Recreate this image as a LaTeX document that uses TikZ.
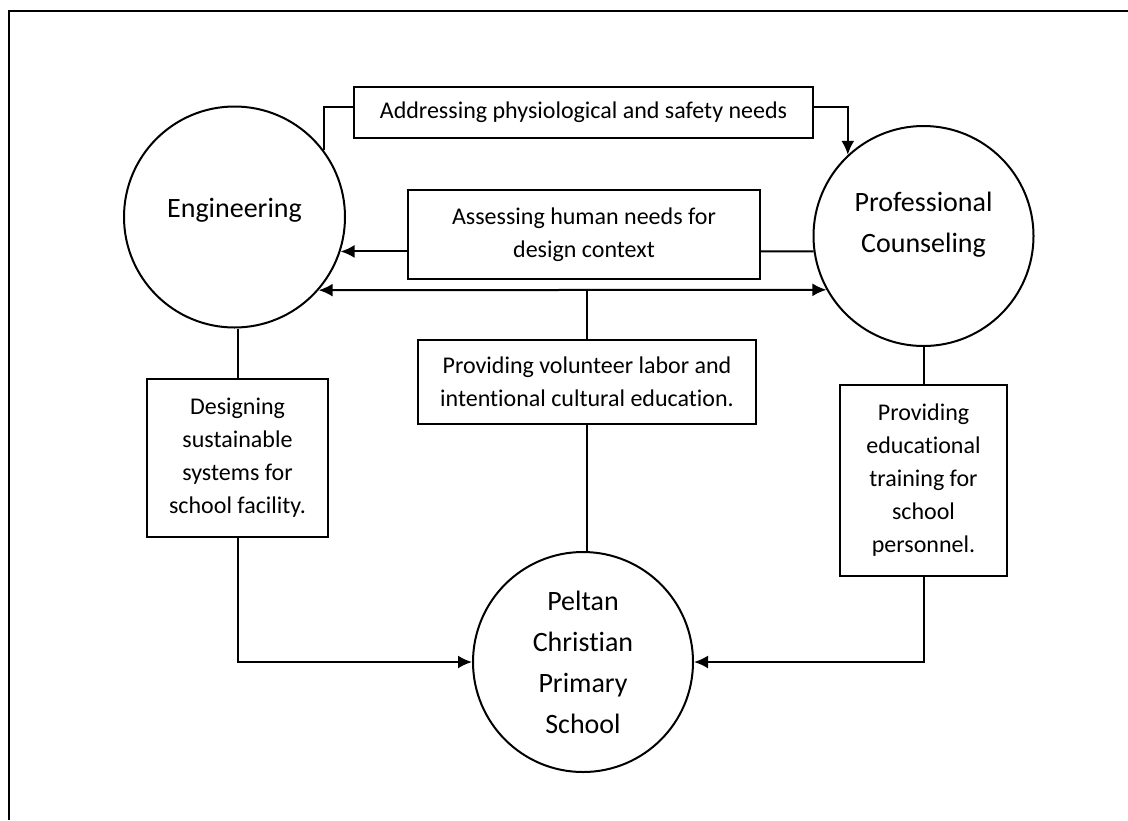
\documentclass[tikz,border=0pt]{standalone}
\usepackage{fontspec}
\setmainfont{Carlito}[Ligatures=NoCommon]
\usetikzlibrary{arrows.meta}

\tikzset{every picture/.style={line width=1pt}}
\tikzset{
	circ/.style={draw,circle,inner sep=0pt,align=center,font=\fontsize{14}{20.5}\selectfont},
	txtbox/.style={draw,rectangle,inner sep=0pt,align=center,font=\fontsize{12}{16.5}\selectfont}
}

\begin{document}
\begin{tikzpicture}[>={Latex[length=7pt,width=6.5pt]},x=0.5pt,y=-0.5pt]
	\useasboundingbox (0,0) rectangle (1128,820);
	%Khung ngoai
	\draw[line width=1.3pt] (9,820)--(9,11)--(1128,11);
	%Vong tron
	\node[circ,minimum size=110.5pt] (eng) at (234.5,217) {Engineering\\[-11.5pt]};
	\node[circ,minimum size=110pt] (couns) at (923.5,236) {Professional\\Counseling\\[-6.5pt]};
	\node[circ,minimum size=110pt] (school) at (583,662) {Peltan\\Christian\\Primary\\School};
	%Hop chu
	\node[txtbox,minimum width=229.5pt,minimum height=25.5pt] (needs) at (583.5,112.5) {Addressing physiological and safety needs};
	\node[txtbox,minimum width=176pt,minimum height=44.5pt] (design) at (584,234.5) {Assessing human needs for\\design context};
	\node[txtbox,minimum width=169pt,minimum height=42pt] (volunteer) at (587,382) {Providing volunteer labor and\\intentional cultural education.};
	\node[txtbox,minimum width=90.5pt,minimum height=79pt] (sustain) at (237.5,458) {Designing\\sustainable\\systems for\\school facility.};
	\node[txtbox,minimum width=83.5pt,minimum height=95.5pt] (training) at (923.5,480.5) {Providing\\educational\\training for\\school\\personnel.};
	%Mui ten tren
	\draw ([yshift=3pt]needs.west) -| (eng.37);
	\draw[->] ([yshift=3pt]needs.east) -| (couns.133);
	%Mui ten giua
	\draw[->] (design.west |- eng.-18) -- (eng.-18);
	\draw (design.east |- eng.-18) -- (couns.188);
	\draw[<->] (eng.-41) -- (couns.209);
	\draw (volunteer.north) -- (volunteer.north |- eng.-41);
	\draw (volunteer.south) -- (volunteer.south |- school.north);
	%Nhanh trai, phai
	\draw (sustain.north) -- (sustain.north |- eng.south);
	\draw[->] (sustain.south) |- (school.west);
	\draw (couns.south) -- (training.north);
	\draw[->] (training.south) |- (school.east);
\end{tikzpicture}
\end{document}
